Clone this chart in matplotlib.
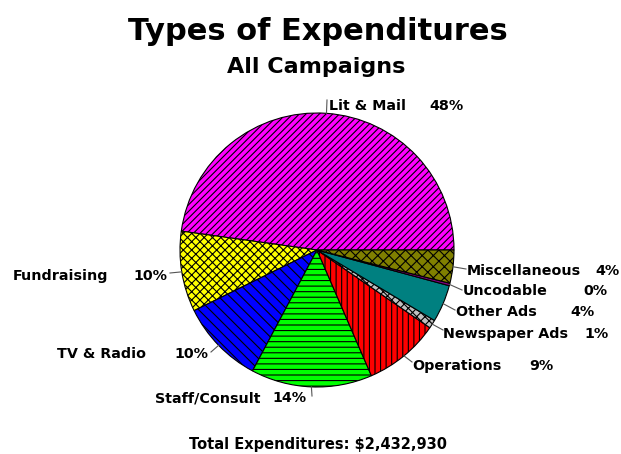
import matplotlib
matplotlib.use("Agg")
import matplotlib.pyplot as plt
import numpy as np

# shares of total spending (percent), counter-clockwise from 3 o'clock
categories = ["Lit & Mail", "Fundraising", "TV & Radio", "Staff/Consult", "Operations",
              "Newspaper Ads", "Other Ads", "Uncodable", "Miscellaneous"]
shares = [47.8, 9.5, 9.9, 14.3, 8.9, 1.0, 4.4, 0.3, 3.9]
pct_labels = ["48%", "10%", "10%", "14%", "9%", "1%", "4%", "0%", "4%"]
total_label = "Total Expenditures: $2,432,930"

colors = ["#FF00FF", "#FFFF00", "#0000FF", "#00FF00", "#FF0000",
          "#C0C0C0", "#008080", "#800080", "#808000"]
hatches = ["/////", "xxxx", "\\\\\\", "---", "|||", "xxxx", "", "", "xxx"]

W, H = 621, 454
# label layout in image pixels: leader end (x, y), name left x, pct right x, baseline y
layout = [
    ((327, 100), 329, 464, 110),
    ((170, 273), 13, 167, 280),
    ((211, 352), 57, 208, 358),
    ((312, 396), 155, 307, 402),
    ((412, 362), 412, 553, 370),
    ((443, 330), 443, 609, 338),
    ((455, 310), 456, 595, 316),
    ((462, 290), 463, 607, 295),
    ((466, 269), 467, 620, 275),
]

plt.rcParams["font.family"] = ["DejaVu Sans"]
plt.rcParams["hatch.linewidth"] = 0.8

fig = plt.figure(figsize=(W / 100, H / 100), dpi=100)
ax = fig.add_axes([0, 0, 1, 1])

cx, cy, r = 317, H - 250, 137
wedges, _ = ax.pie(shares, colors=colors, hatch=hatches, startangle=0, counterclock=True,
                   radius=r, center=(cx, cy),
                   wedgeprops=dict(edgecolor="black", linewidth=0.8))
ax.set_xlim(0, W)
ax.set_ylim(0, H)
ax.set_aspect("auto")
ax.axis("off")

for w, name, pct, (end, xn, xp, ty) in zip(wedges, categories, pct_labels, layout):
    mid = np.deg2rad((w.theta1 + w.theta2) / 2)
    sx, sy = cx + r * np.cos(mid), cy + r * np.sin(mid)
    ax.plot([sx, end[0]], [sy, H - end[1]], color="#555555", lw=0.8)
    ax.text(xn, H - ty, name, ha="left", va="baseline", fontsize=10.3, fontweight="bold")
    ax.text(xp, H - ty, pct, ha="right", va="baseline", fontsize=10.3, fontweight="bold")

ax.text(318, H - 40, "Types of Expenditures", ha="center", va="baseline",
        fontsize=22, fontweight="bold")
ax.text(316, H - 73, "All Campaigns", ha="center", va="baseline",
        fontsize=16, fontweight="bold")
ax.text(318, H - 449, total_label, ha="center", va="baseline",
        fontsize=10.5, fontweight="bold")

fig.savefig("out.png", dpi=100)
